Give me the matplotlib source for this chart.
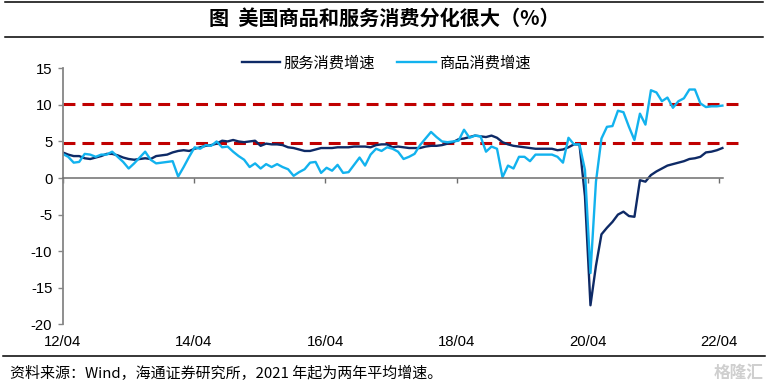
import numpy as np
import matplotlib
matplotlib.use('Agg')
import matplotlib.pyplot as plt
from matplotlib.lines import Line2D

# ---------------- data ----------------
services = [3.5, 3.2, 3.0, 3.0, 2.7, 2.6, 2.8, 3.0, 3.3, 3.3,
            3.1, 2.8, 2.6, 2.5, 2.6, 2.7, 2.6, 3.0, 3.1, 3.2,
            3.5, 3.7, 3.8, 3.7, 4.0, 4.2, 4.4, 4.5, 4.7, 5.1,
            5.0, 5.2, 5.0, 4.9, 5.0, 5.1, 4.4, 4.7, 4.6, 4.6,
            4.5, 4.2, 4.1, 3.9, 3.7, 3.7, 3.9, 4.1, 4.1, 4.1,
            4.2, 4.2, 4.2, 4.3, 4.3, 4.3, 4.2, 4.5, 4.6, 4.6,
            4.2, 4.3, 4.2, 4.1, 4.1, 4.1, 4.3, 4.4, 4.4, 4.5,
            4.7, 4.9, 5.3, 5.4, 5.6, 5.8, 5.7, 5.6, 5.8, 5.5,
            4.9, 4.6, 4.4, 4.3, 4.2, 4.1, 4.0, 4.0, 4.0, 4.0,
            3.8, 3.9, 4.2, 4.6, 4.6, -2.5, -17.4, -12.0, -7.7, -6.8,
            -6.0, -5.0, -4.6, -5.2, -5.3, -0.3, -0.5, 0.4, 0.9, 1.3,
            1.7, 1.9, 2.1, 2.3, 2.6, 2.7, 2.9, 3.5, 3.6, 3.8,
            4.1]
goods = [3.3, 2.9, 2.1, 2.2, 3.3, 3.2, 2.9, 3.2, 3.2, 3.6,
         2.9, 2.2, 1.3, 2.0, 2.8, 3.6, 2.5, 2.0, 2.1, 2.2,
         2.3, 0.2, 1.5, 2.9, 4.2, 4.0, 4.5, 4.4, 5.0, 4.2,
         4.3, 3.6, 3.0, 2.5, 1.5, 2.0, 1.3, 1.9, 1.5, 1.9,
         1.5, 1.2, 0.3, 0.8, 1.2, 2.1, 2.2, 0.7, 1.4, 1.0,
         1.8, 0.7, 0.8, 1.8, 2.8, 1.7, 3.2, 4.0, 3.7, 4.2,
         4.0, 3.6, 2.6, 2.9, 3.3, 4.5, 5.4, 6.3, 5.6, 5.0,
         4.9, 5.0, 5.1, 6.6, 5.5, 5.8, 5.7, 3.6, 4.3, 4.0,
         0.1, 1.7, 1.3, 2.9, 2.9, 2.3, 3.2, 3.2, 3.2, 3.2,
         2.9, 2.1, 5.5, 4.6, 4.6, 1.1, -13.0, -0.5, 5.4, 7.0,
         7.1, 9.2, 9.0, 7.0, 5.2, 8.8, 7.3, 12.0, 11.7, 10.5,
         11.0, 9.6, 10.5, 10.9, 12.1, 12.1, 10.2, 9.7, 9.8, 9.8,
         9.9]
series_names = ['服务消费增速', '商品消费增速']
ref_levels = [10.1, 4.8]
tick_pos = [0, 24, 48, 72, 96, 120]
tick_labels = ['12/04', '14/04', '16/04', '18/04', '20/04', '22/04']
yticks = [15, 10, 5, 0, -5, -10, -15, -20]
title = '图  美国商品和服务消费分化很大（%）'
source = '资料来源：Wind，海通证券研究所，2021 年起为两年平均增速。'

# ---------------- style ----------------
cjk = ['Noto Sans CJK SC', 'DejaVu Sans']
navy = '#0e2a66'
light = '#12b2ee'
red = '#c00000'
W, H = 769, 384

fig = plt.figure(figsize=(W / 100, H / 100), dpi=100)
ax = fig.add_axes([62.7 / W, 1 - 324.3 / H, (741 - 62.7) / W, (324.3 - 68.3) / H])

x = np.arange(len(services)) * 1.005
l1, = ax.plot(x, services, color=navy, lw=1.7, solid_joinstyle='round')
l2, = ax.plot(x, goods, color=light, lw=1.7, solid_joinstyle='round')
for lv in ref_levels:
    ax.axhline(lv, color=red, lw=2.2, dashes=(3.9, 2.3), zorder=1)

ax.set_xlim(0, 124)
ax.set_ylim(-20, 15)
for s in ['top', 'right']:
    ax.spines[s].set_visible(False)
ax.spines['left'].set_color('#868686')
ax.spines['left'].set_linewidth(1.3)
ax.spines['bottom'].set_position(('data', 0))
ax.spines['bottom'].set_bounds(0, 120.8)
ax.spines['bottom'].set_color('#6e6e6e')
ax.spines['bottom'].set_linewidth(1.1)

ax.set_yticks(yticks)
ax.set_yticklabels([str(v) for v in yticks], family='Liberation Sans', fontsize=10.7)
ax.tick_params(axis='y', direction='out', length=3.5, width=1, color='#868686', pad=4)
ax.set_xticks(tick_pos)
ax.set_xticklabels(tick_labels, family='Liberation Sans', fontsize=10.7)
ax.tick_params(axis='x', direction='out', length=3.8, width=1, color='#6e6e6e', pad=109)

ax.legend([l1, l2], series_names, loc='center', ncol=2, frameon=False,
          bbox_to_anchor=(386 / W, 1 - 63 / H), bbox_transform=fig.transFigure,
          prop={'family': cjk, 'size': 11}, handlelength=2.5, handletextpad=0.2,
          columnspacing=1.5)

fig.text(384 / W, 1 - 18.5 / H, title, ha='center', va='center', fontsize=14.5,
         family=cjk, fontweight='bold')
fig.text(10 / W, 1 - 373 / H, source, ha='left', va='center', fontsize=10.8, family=cjk)
fig.text(764 / W, 1 - 373 / H, '格隆汇', ha='right', va='center', fontsize=12,
         family=cjk, color='#cfcfcf', fontweight='bold')

for yy, x0, x1 in [(2, 5, 763), (36.5, 5, 763), (356, 3, 765)]:
    fig.add_artist(Line2D([x0 / W, x1 / W], [1 - yy / H] * 2, color='black', lw=1.1))

fig.savefig('out.png', dpi=100)
